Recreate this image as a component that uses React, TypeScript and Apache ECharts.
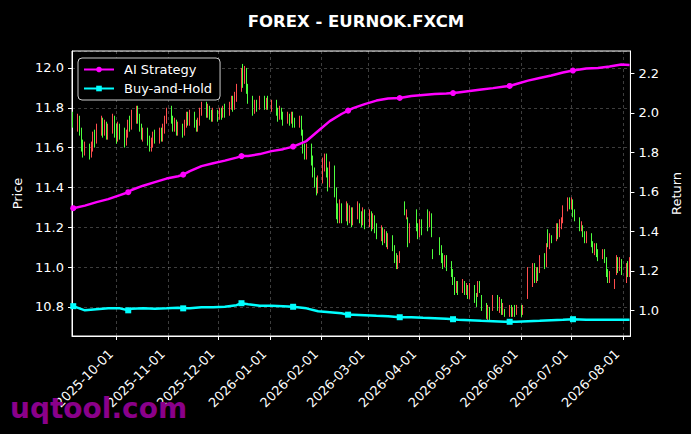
import React, { useEffect, useRef } from "react";
import * as echarts from "echarts";

const TITLE = "FOREX - EURNOK.FXCM";
const WATERMARK = "uqtool.com";

// Candles per month: [day, open, close, low, high]
const sep2025 = [
  [5, 11.77, 11.72, 11.70, 11.78], [8, 11.72, 11.74, 11.68, 11.77], [9, 11.74, 11.68, 11.66, 11.76],
  [10, 11.68, 11.62, 11.58, 11.70], [11, 11.62, 11.58, 11.55, 11.64], [12, 11.58, 11.60, 11.56, 11.63],
  [15, 11.60, 11.56, 11.54, 11.62], [16, 11.56, 11.61, 11.55, 11.63], [17, 11.61, 11.66, 11.58, 11.68],
  [18, 11.66, 11.63, 11.60, 11.69], [19, 11.63, 11.70, 11.62, 11.72], [22, 11.70, 11.74, 11.66, 11.76],
  [23, 11.74, 11.68, 11.65, 11.75], [24, 11.68, 11.72, 11.66, 11.74], [25, 11.72, 11.66, 11.64, 11.73],
  [26, 11.66, 11.70, 11.64, 11.72], [29, 11.70, 11.74, 11.67, 11.77], [30, 11.74, 11.68, 11.65, 11.76],
];
const oct2025 = [
  [1, 11.68, 11.64, 11.62, 11.72], [2, 11.64, 11.70, 11.63, 11.73], [3, 11.70, 11.66, 11.64, 11.72],
  [6, 11.66, 11.62, 11.60, 11.70], [7, 11.62, 11.67, 11.61, 11.69], [8, 11.67, 11.72, 11.65, 11.74],
  [9, 11.72, 11.70, 11.68, 11.76], [10, 11.70, 11.76, 11.69, 11.79], [13, 11.76, 11.79, 11.72, 11.81],
  [14, 11.79, 11.74, 11.72, 11.81], [15, 11.74, 11.70, 11.68, 11.77], [16, 11.70, 11.66, 11.64, 11.72],
  [17, 11.66, 11.68, 11.63, 11.70], [20, 11.68, 11.63, 11.61, 11.70], [21, 11.63, 11.60, 11.58, 11.66],
  [22, 11.60, 11.62, 11.58, 11.65], [23, 11.62, 11.66, 11.60, 11.68], [24, 11.66, 11.64, 11.62, 11.69],
  [27, 11.64, 11.68, 11.62, 11.70], [28, 11.68, 11.65, 11.63, 11.70], [29, 11.65, 11.69, 11.63, 11.72],
  [30, 11.69, 11.74, 11.67, 11.76], [31, 11.74, 11.78, 11.72, 11.80],
];
const nov2025 = [
  [3, 11.78, 11.74, 11.72, 11.81], [4, 11.74, 11.70, 11.68, 11.76], [5, 11.70, 11.72, 11.68, 11.75],
  [6, 11.72, 11.68, 11.66, 11.74], [7, 11.68, 11.70, 11.66, 11.73], [10, 11.70, 11.67, 11.65, 11.72],
  [11, 11.67, 11.72, 11.66, 11.74], [12, 11.72, 11.76, 11.70, 11.78], [13, 11.76, 11.73, 11.71, 11.78],
  [14, 11.73, 11.76, 11.71, 11.79], [17, 11.76, 11.72, 11.70, 11.78], [18, 11.72, 11.70, 11.68, 11.74],
  [19, 11.70, 11.73, 11.68, 11.75], [20, 11.73, 11.78, 11.71, 11.80], [21, 11.78, 11.81, 11.76, 11.83],
  [24, 11.81, 11.77, 11.75, 11.83], [25, 11.77, 11.80, 11.75, 11.82], [26, 11.80, 11.76, 11.74, 11.81],
  [27, 11.76, 11.74, 11.73, 11.79], [28, 11.74, 11.77, 11.73, 11.80],
];
const dec2025 = [
  [1, 11.77, 11.75, 11.73, 11.79], [2, 11.75, 11.78, 11.74, 11.80], [3, 11.78, 11.76, 11.74, 11.80],
  [4, 11.76, 11.79, 11.75, 11.81], [5, 11.79, 11.77, 11.75, 11.82], [8, 11.77, 11.81, 11.76, 11.83],
  [9, 11.81, 11.84, 11.79, 11.86], [10, 11.84, 11.80, 11.78, 11.86], [11, 11.80, 11.85, 11.79, 11.88],
  [12, 11.85, 11.90, 11.83, 11.92], [15, 11.90, 11.97, 11.88, 12.00], [16, 11.97, 11.94, 11.90, 12.02],
  [17, 11.94, 11.98, 11.92, 12.01], [18, 11.98, 11.90, 11.87, 12.00], [19, 11.90, 11.84, 11.82, 11.92],
  [22, 11.84, 11.78, 11.76, 11.86], [23, 11.78, 11.82, 11.77, 11.84], [24, 11.82, 11.80, 11.78, 11.84],
  [26, 11.80, 11.84, 11.79, 11.86], [29, 11.84, 11.81, 11.79, 11.86], [30, 11.81, 11.83, 11.79, 11.85],
  [31, 11.83, 11.80, 11.79, 11.86],
];
const jan2026 = [
  [2, 11.80, 11.82, 11.78, 11.84], [5, 11.82, 11.78, 11.76, 11.84], [6, 11.78, 11.75, 11.73, 11.80],
  [7, 11.75, 11.79, 11.74, 11.81], [8, 11.79, 11.76, 11.74, 11.80], [9, 11.76, 11.73, 11.71, 11.78],
  [12, 11.73, 11.76, 11.72, 11.78], [13, 11.76, 11.74, 11.71, 11.77], [14, 11.74, 11.77, 11.72, 11.78],
  [15, 11.77, 11.73, 11.70, 11.78], [16, 11.73, 11.71, 11.70, 11.75], [19, 11.71, 11.74, 11.70, 11.76],
  [20, 11.74, 11.68, 11.66, 11.76], [21, 11.68, 11.60, 11.57, 11.69], [22, 11.60, 11.56, 11.54, 11.62],
  [23, 11.56, 11.60, 11.54, 11.62], [26, 11.60, 11.54, 11.51, 11.62], [27, 11.54, 11.48, 11.45, 11.56],
  [28, 11.48, 11.42, 11.40, 11.50], [29, 11.42, 11.38, 11.36, 11.45], [30, 11.38, 11.44, 11.37, 11.46],
];
const feb2026 = [
  [2, 11.44, 11.52, 11.42, 11.55], [3, 11.52, 11.56, 11.48, 11.57], [4, 11.56, 11.48, 11.45, 11.57],
  [5, 11.48, 11.42, 11.38, 11.50], [6, 11.42, 11.50, 11.40, 11.53], [9, 11.50, 11.38, 11.35, 11.51],
  [10, 11.38, 11.28, 11.24, 11.40], [11, 11.28, 11.24, 11.22, 11.32], [12, 11.24, 11.30, 11.22, 11.34],
  [13, 11.30, 11.26, 11.22, 11.32], [16, 11.26, 11.30, 11.23, 11.33], [17, 11.30, 11.25, 11.21, 11.32],
  [18, 11.25, 11.28, 11.22, 11.31], [19, 11.28, 11.23, 11.20, 11.30], [20, 11.23, 11.27, 11.21, 11.30],
  [23, 11.27, 11.31, 11.24, 11.33], [24, 11.31, 11.26, 11.22, 11.32], [25, 11.26, 11.22, 11.20, 11.28],
  [26, 11.22, 11.27, 11.21, 11.30], [27, 11.27, 11.22, 11.19, 11.29],
];
const mar2026 = [
  [2, 11.22, 11.26, 11.20, 11.29], [3, 11.26, 11.21, 11.18, 11.28], [4, 11.21, 11.25, 11.19, 11.27],
  [5, 11.25, 11.20, 11.17, 11.26], [6, 11.20, 11.17, 11.14, 11.22], [9, 11.17, 11.19, 11.13, 11.21],
  [10, 11.19, 11.14, 11.11, 11.20], [11, 11.14, 11.17, 11.12, 11.19], [12, 11.17, 11.12, 11.10, 11.18],
  [13, 11.12, 11.15, 11.09, 11.17], [16, 11.15, 11.10, 11.08, 11.16], [17, 11.10, 11.05, 11.02, 11.11],
  [18, 11.05, 11.01, 10.99, 11.07], [19, 11.01, 11.03, 10.99, 11.06], [20, 11.03, 11.07, 11.02, 11.08],
  [23, 11.32, 11.27, 11.26, 11.33], [24, 11.25, 11.28, 11.24, 11.29], [25, 11.24, 11.14, 11.10, 11.25],
  [26, 11.14, 11.18, 11.12, 11.22], [30, 11.27, 11.20, 11.18, 11.29], [31, 11.20, 11.16, 11.14, 11.22],
];
const apr2026 = [
  [1, 11.17, 11.22, 11.15, 11.24], [2, 11.22, 11.18, 11.16, 11.24], [6, 11.28, 11.22, 11.18, 11.29],
  [7, 11.22, 11.26, 11.20, 11.28], [8, 11.26, 11.18, 11.15, 11.27], [9, 11.08, 11.05, 11.04, 11.09],
  [13, 11.14, 11.09, 11.06, 11.15], [14, 11.09, 11.05, 11.02, 11.11], [15, 11.05, 11.02, 10.99, 11.07],
  [16, 11.02, 11.04, 11.00, 11.06], [17, 11.04, 11.01, 10.98, 11.06], [20, 11.01, 10.97, 10.95, 11.03],
  [21, 10.97, 10.93, 10.91, 10.99], [22, 10.93, 10.89, 10.86, 10.95], [23, 10.89, 10.91, 10.87, 10.93],
  [24, 10.91, 10.88, 10.86, 10.93], [27, 10.88, 10.92, 10.87, 10.94], [28, 10.92, 10.88, 10.86, 10.93],
  [29, 10.88, 10.90, 10.86, 10.92], [30, 10.90, 10.86, 10.84, 10.91],
];
const may2026 = [
  [1, 10.86, 10.90, 10.84, 10.92], [4, 10.90, 10.85, 10.82, 10.91], [5, 10.85, 10.82, 10.80, 10.87],
  [6, 10.86, 10.91, 10.85, 10.93], [7, 10.91, 10.88, 10.87, 10.93], [8, 10.84, 10.80, 10.78, 10.86],
  [11, 10.80, 10.76, 10.74, 10.82], [12, 10.76, 10.79, 10.73, 10.81], [13, 10.79, 10.75, 10.73, 10.80],
  [15, 10.80, 10.84, 10.78, 10.86], [18, 10.84, 10.80, 10.78, 10.86], [19, 10.80, 10.83, 10.77, 10.85],
  [20, 10.83, 10.78, 10.76, 10.84], [21, 10.78, 10.80, 10.76, 10.82], [22, 10.78, 10.76, 10.75, 10.79],
  [25, 10.76, 10.79, 10.75, 10.81], [26, 10.79, 10.77, 10.75, 10.81], [27, 10.77, 10.79, 10.75, 10.80],
  [28, 10.79, 10.77, 10.75, 10.81], [29, 10.77, 10.80, 10.76, 10.81],
];
const jun2026 = [
  [1, 10.80, 10.77, 10.75, 10.81], [2, 10.77, 10.80, 10.76, 10.81], [5, 10.86, 10.98, 10.84, 11.00],
  [8, 10.92, 11.00, 10.90, 11.02], [9, 11.00, 10.94, 10.92, 11.02], [10, 10.94, 10.98, 10.92, 11.00],
  [11, 10.98, 10.96, 10.93, 11.00], [12, 10.98, 11.04, 10.97, 11.06], [15, 11.04, 11.02, 10.99, 11.07],
  [16, 11.02, 11.10, 11.00, 11.12], [17, 11.18, 11.11, 11.10, 11.19], [18, 11.11, 11.15, 11.09, 11.17],
  [19, 11.15, 11.14, 11.12, 11.16], [22, 11.14, 11.20, 11.13, 11.22], [23, 11.20, 11.17, 11.14, 11.22],
  [24, 11.17, 11.22, 11.15, 11.24], [25, 11.22, 11.24, 11.19, 11.25], [26, 11.24, 11.29, 11.22, 11.31],
  [29, 11.29, 11.34, 11.28, 11.35], [30, 11.34, 11.31, 11.29, 11.35],
];
const jul2026 = [
  [1, 11.30, 11.33, 11.29, 11.35], [2, 11.33, 11.27, 11.25, 11.34], [3, 11.27, 11.24, 11.23, 11.29],
  [6, 11.24, 11.20, 11.18, 11.25], [7, 11.20, 11.22, 11.18, 11.23], [8, 11.20, 11.17, 11.15, 11.21],
  [9, 11.17, 11.14, 11.12, 11.18], [10, 11.14, 11.16, 11.12, 11.18], [13, 11.16, 11.12, 11.10, 11.17],
  [14, 11.12, 11.09, 11.07, 11.13], [15, 11.09, 11.11, 11.06, 11.12], [16, 11.11, 11.07, 11.05, 11.12],
  [17, 11.07, 11.05, 11.03, 11.09], [20, 11.05, 11.08, 11.04, 11.09], [21, 11.08, 11.04, 11.02, 11.09],
  [22, 11.04, 10.97, 10.95, 11.05], [23, 10.97, 10.94, 10.92, 10.99], [24, 10.94, 10.96, 10.92, 10.98],
  [27, 10.90, 10.93, 10.89, 10.94], [28, 10.98, 11.04, 10.96, 11.06], [29, 11.04, 11.00, 10.97, 11.05],
  [30, 11.00, 11.03, 10.98, 11.05], [31, 11.03, 10.98, 10.96, 11.04],
];
const aug2026 = [
  [3, 10.94, 11.00, 10.92, 11.02], [4, 11.00, 10.97, 10.95, 11.03], [5, 10.97, 11.02, 10.95, 11.05],
];
const candleMonths: [number, number, number[][]][] = [
  [2025, 9, sep2025], [2025, 10, oct2025], [2025, 11, nov2025], [2025, 12, dec2025],
  [2026, 1, jan2026], [2026, 2, feb2026], [2026, 3, mar2026], [2026, 4, apr2026],
  [2026, 5, may2026], [2026, 6, jun2026], [2026, 7, jul2026], [2026, 8, aug2026],
];

// Strategy lines (right axis)
const lineDates = [
  "2025-09-05", "2025-09-12", "2025-09-19", "2025-09-26", "2025-10-03", "2025-10-08", "2025-10-10",
  "2025-10-17", "2025-10-24", "2025-10-31", "2025-11-07", "2025-11-10", "2025-11-14", "2025-11-21",
  "2025-11-28", "2025-12-05", "2025-12-12", "2025-12-15", "2025-12-19", "2025-12-26", "2026-01-02",
  "2026-01-09", "2026-01-15", "2026-01-23", "2026-01-30", "2026-02-06", "2026-02-13", "2026-02-17",
  "2026-02-20", "2026-02-27", "2026-03-06", "2026-03-13", "2026-03-20", "2026-03-27", "2026-04-03",
  "2026-04-10", "2026-04-17", "2026-04-21", "2026-04-24", "2026-05-01", "2026-05-08", "2026-05-15",
  "2026-05-22", "2026-05-25", "2026-05-29", "2026-06-05", "2026-06-12", "2026-06-19", "2026-06-26",
  "2026-07-02", "2026-07-10", "2026-07-17", "2026-07-24", "2026-07-31", "2026-08-05",
];
const aiStrategy = [
  1.517, 1.530, 1.548, 1.563, 1.583, 1.598, 1.609,
  1.631, 1.649, 1.667, 1.679, 1.687, 1.705, 1.730,
  1.745, 1.758, 1.773, 1.781, 1.781, 1.791, 1.806,
  1.816, 1.829, 1.857, 1.908, 1.958, 1.994, 2.011,
  2.024, 2.044, 2.062, 2.072, 2.075, 2.085, 2.090,
  2.095, 2.098, 2.100, 2.103, 2.110, 2.118, 2.125,
  2.133, 2.136, 2.146, 2.163, 2.176, 2.189, 2.204,
  2.214, 2.224, 2.227, 2.234, 2.245, 2.242,
];
const buyAndHold = [
  1.021, 1.000, 1.005, 1.010, 1.010, 1.000, 1.008,
  1.010, 1.008, 1.010, 1.013, 1.010, 1.010, 1.016,
  1.016, 1.018, 1.026, 1.036, 1.031, 1.023, 1.023,
  1.021, 1.018, 1.010, 0.995, 0.990, 0.985, 0.978,
  0.978, 0.975, 0.972, 0.970, 0.965, 0.965, 0.962,
  0.960, 0.957, 0.955, 0.952, 0.950, 0.947, 0.945,
  0.942, 0.942, 0.942, 0.945, 0.947, 0.950, 0.952,
  0.955, 0.952, 0.952, 0.952, 0.952, 0.952,
];
const markerDates = [
  "2025-09-05", "2025-10-08", "2025-11-10", "2025-12-15", "2026-01-15",
  "2026-02-17", "2026-03-20", "2026-04-21", "2026-05-25", "2026-07-02",
];

const X_MIN = "2025-09-04T06:00:00Z";
const X_MAX = "2026-08-05T12:00:00Z";
const PRICE_MIN = 10.654;
const PRICE_MAX = 12.085;
const RET_MIN = 0.87;
const RET_MAX = 2.313;

const FONT = "DejaVu Sans";
const UP = "#ff4d4d";
const DOWN = "#4dff3d";
const AI_COLOR = "#ff00ff";
const BH_COLOR = "#00ffff";
const DAY = 86400000;

function utc(s: string) {
  return new Date(s.length === 10 ? s + "T00:00:00Z" : s).getTime();
}

export default function App() {
  const ref = useRef<HTMLDivElement>(null);

  useEffect(() => {
    if (!ref.current) return;
    const chart = echarts.init(ref.current, null, { renderer: "svg" });

    const candles: number[][] = [];
    candleMonths.forEach(([y, m, rows]) => {
      rows.forEach(([d, o, c, l, h]) => {
        candles.push([Date.UTC(y, m - 1, d), o, c, l, h]);
      });
    });
    const markerSet = new Set(markerDates);
    const mkLine = (vals: number[]) =>
      lineDates.map((d, i) => ({
        value: [utc(d), vals[i]],
        symbolSize: markerSet.has(d) ? 6 : 0,
      }));

    const axisText = { color: "#ffffff", fontSize: 13, fontFamily: FONT };
    const gridLine = {
      show: true,
      lineStyle: { color: "rgba(255,255,255,0.3)", type: [3, 3], width: 0.8 },
    };

    chart.setOption({
      animation: false,
      useUTC: true,
      backgroundColor: "#000000",
      title: {
        text: TITLE,
        left: 351,
        top: 8,
        textAlign: "center",
        textStyle: { color: "#ffffff", fontSize: 16.5, fontWeight: "bold", fontFamily: FONT },
      },
      legend: {
        data: ["AI Strategy", "Buy-and-Hold"],
        orient: "vertical",
        left: 78,
        top: 58,
        itemWidth: 30,
        itemHeight: 7,
        itemGap: 6,
        padding: [5, 8, 5, 5],
        backgroundColor: "#000000",
        borderColor: "#cccccc",
        borderWidth: 1,
        borderRadius: 4,
        textStyle: { color: "#ffffff", fontSize: 13, fontFamily: FONT, padding: [0, 0, 0, 5] },
      },
      grid: {
        show: true,
        left: 72,
        top: 51,
        right: 60,
        bottom: 98,
        borderColor: "#ffffff",
        borderWidth: 1,
        backgroundColor: "#000000",
      },
      xAxis: {
        type: "time",
        min: utc(X_MIN),
        max: utc(X_MAX),
        splitNumber: 11,
        minInterval: 28 * DAY,
        maxInterval: 31 * DAY,
        axisLine: { show: true, lineStyle: { color: "#ffffff" } },
        axisTick: { show: true, length: 4, lineStyle: { color: "#ffffff" } },
        axisLabel: {
          ...axisText,
          rotate: 45,
          formatter: "{yyyy}-{MM}-{dd}",
          showMinLabel: false,
          showMaxLabel: false,
          margin: 10,
          padding: [0, 8, 0, 0],
        },
        splitLine: gridLine,
      },
      yAxis: [
        {
          type: "value",
          min: PRICE_MIN,
          max: PRICE_MAX,
          splitNumber: 7,
          name: "Price",
          nameLocation: "middle",
          nameGap: 48,
          nameTextStyle: { color: "#ffffff", fontSize: 13, fontFamily: FONT },
          axisLine: { show: true, lineStyle: { color: "#ffffff" } },
          axisTick: { show: true, length: 4, lineStyle: { color: "#ffffff" } },
          axisLabel: {
            ...axisText,
            showMinLabel: false,
            showMaxLabel: false,
            formatter: (v: number) => v.toFixed(1),
          },
          splitLine: gridLine,
        },
        {
          type: "value",
          min: RET_MIN,
          max: RET_MAX,
          splitNumber: 7,
          name: "Return",
          nameLocation: "middle",
          nameGap: 39,
          nameTextStyle: { color: "#ffffff", fontSize: 13, fontFamily: FONT },
          axisLine: { show: true, lineStyle: { color: "#ffffff" } },
          axisTick: { show: true, length: 4, lineStyle: { color: "#ffffff" } },
          axisLabel: {
            ...axisText,
            showMinLabel: false,
            showMaxLabel: false,
            formatter: (v: number) => v.toFixed(1),
          },
          splitLine: { show: false },
        },
      ],
      series: [
        {
          name: "EURNOK",
          type: "candlestick",
          xAxisIndex: 0,
          yAxisIndex: 0,
          barWidth: 1.2,
          encode: { x: 0, y: [1, 2, 3, 4] },
          data: candles,
          itemStyle: {
            color: UP,
            color0: DOWN,
            borderColor: UP,
            borderColor0: DOWN,
            borderWidth: 1,
          },
          z: 2,
        },
        {
          name: "AI Strategy",
          type: "line",
          yAxisIndex: 1,
          data: mkLine(aiStrategy),
          symbol: "circle",
          showSymbol: true,
          lineStyle: { color: AI_COLOR, width: 2.5 },
          itemStyle: { color: AI_COLOR },
          z: 3,
        },
        {
          name: "Buy-and-Hold",
          type: "line",
          yAxisIndex: 1,
          data: mkLine(buyAndHold),
          symbol: "rect",
          showSymbol: true,
          lineStyle: { color: BH_COLOR, width: 2.5 },
          itemStyle: { color: BH_COLOR },
          z: 3,
        },
      ],
      graphic: [
        {
          type: "text",
          left: 10,
          top: 394,
          style: {
            text: WATERMARK,
            fill: "#8a008a",
            font: `bold 28px ${FONT}`,
          },
          z: 100,
        },
      ],
    });

    return () => chart.dispose();
  }, []);

  return (
    <div
      ref={ref}
      style={{ position: "fixed", left: 0, top: 0, width: 691, height: 434, background: "#000" }}
    />
  );
}
